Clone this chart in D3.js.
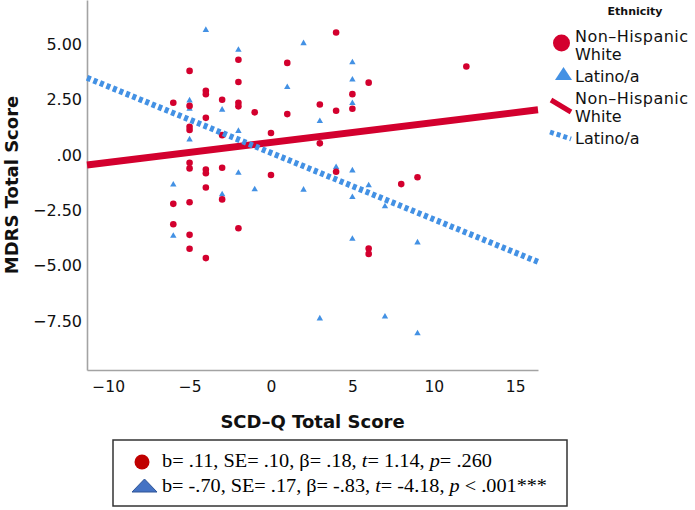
<!DOCTYPE html>
<html>
<head>
<meta charset="utf-8">
<script src="https://cdn.jsdelivr.net/npm/d3@7"></script>
<style>
  html, body { margin: 0; padding: 0; background: #fff; }
  svg { display: block; }
</style>
</head>
<body>
<svg id="chart" width="695" height="510"></svg>
<script>
// ---------------- data ----------------
const groups = ["Non–Hispanic White", "Latino/a"];

const nhwX = [-5, -2, -2, -4, -4, -6, -5, -3, -2, -2, -1, -4, -5, -5, -3, 0,
              -5, -5, -4, -4, -3, 0, -4, -6, -5, -3, -6, -2, -5, -5, -4,
              1, 6, 5, 3, 4, 5, 1, 3, 4, 4, 12, 8, 9, 6, 6];
const nhwY = [3.80, 4.30, 3.30, 2.90, 2.75, 2.36, 2.22, 2.50, 2.36, 2.20, 1.93, 1.68, 1.28, 1.13, 0.90, 1.00,
              -0.35, -0.60, -0.65, -0.82, -0.57, -0.90, -1.46, -2.20, -2.13, -2.00, -3.12, -3.30, -3.60, -4.23, -4.65,
              4.16, 3.27, 2.75, 2.28, 2.00, 2.09, 1.85, 0.53, -0.75, 5.53, 4.00, -1.31, -1.00, -4.22, -4.46];

const latX = [-4, -2, 2, 1, -5, -5, -3, -5, -2, -2, -6, -1, 2, -3, -6,
              5, 5, 5, 3, 4, 5, 6, 5, 7, 5, 9, 3, 7, 9];
const latY = [5.66, 4.76, 5.06, 3.08, 2.48, 2.10, 2.06, 0.72, 1.10, -0.79, -1.32, -1.53, -1.55, -1.76, -3.63,
              4.20, 3.42, 2.36, 1.55, -0.53, -0.68, -1.35, -1.88, -2.30, -3.77, -3.93, -7.36, -7.28, -8.03];

// fit lines: [intercept, slope] as drawn in the picture
const nhwFit = [0.57, 0.09];
const latFit = [0.10, -0.30];

const xTicks = [-10, -5, 0, 5, 10, 15];
const yTicks = [-7.5, -5, -2.5, 0, 2.5, 5];

const statsLines = [
  [["b= .11, SE= .10, β= .18, ", false], ["t", true], ["= 1.14, ", false], ["p", true], ["= .260", false]],
  [["b= -.70, SE= .17, β= -.83, ", false], ["t", true], ["= -4.18, ", false], ["p", true], [" < .001***", false]]
];

// ---------------- chart ----------------
const RED = "#d3002e";
const BLUE = "#4391e4";

const svg = d3.select("#chart");
const x = d3.scaleLinear().domain([-11.3, 16.4]).range([87, 538]);
const y = d3.scaleLinear().domain([-9.7, 7.0]).range([370, 0]);

// axes
const yFmt = v => v === 0 ? ".00" : d3.format(".2f")(v);
const gy = svg.append("g").attr("transform", `translate(${x.range()[0]},0)`)
  .call(d3.axisLeft(y).tickValues(yTicks).tickFormat(yFmt).tickSize(0).tickSizeOuter(0).tickPadding(5));
const gx = svg.append("g").attr("transform", `translate(0,${y.range()[0]})`)
  .call(d3.axisBottom(x).tickValues(xTicks).tickFormat(d3.format("d")).tickSize(0).tickSizeOuter(0).tickPadding(11));

[gx, gy].forEach(g => {
  g.select(".domain").attr("stroke", "#a3a3a3").attr("stroke-width", 1.6);
  g.selectAll("text").attr("font-family", "DejaVu Sans").attr("fill", "#111");
});
gy.selectAll("text").attr("font-size", 16);
gx.selectAll("text").attr("font-size", 15.5);

// axis titles
svg.append("text")
  .attr("transform", `translate(18,${(y.range()[0] + y.range()[1]) / 2}) rotate(-90)`)
  .attr("text-anchor", "middle")
  .attr("font-family", "DejaVu Sans").attr("font-weight", "bold").attr("font-size", 18)
  .attr("fill", "#111")
  .text("MDRS Total Score");
svg.append("text")
  .attr("x", (x.range()[0] + x.range()[1]) / 2).attr("y", 428)
  .attr("text-anchor", "middle")
  .attr("font-family", "DejaVu Sans").attr("font-weight", "bold").attr("font-size", 18)
  .attr("fill", "#111")
  .text("SCD–Q Total Score");

// points
const nhw = nhwX.map((v, i) => ({x: v, y: nhwY[i]}));
const lat = latX.map((v, i) => ({x: v, y: latY[i]}));

const tri = (w, h) => `M0,${-h * 0.6}L${w / 2},${h * 0.4}L${-w / 2},${h * 0.4}Z`;

svg.append("g").selectAll("path").data(lat).join("path")
  .attr("d", tri(6.4, 5.6))
  .attr("transform", d => `translate(${x(d.x)},${y(d.y)})`)
  .attr("fill", BLUE);

svg.append("g").selectAll("circle").data(nhw).join("circle")
  .attr("cx", d => x(d.x)).attr("cy", d => y(d.y)).attr("r", 3.3)
  .attr("fill", RED);

// fit lines
const xd = x.domain();
const fitLine = f => xd.map(v => [x(v), y(f[0] + f[1] * v)]);
svg.append("path")
  .attr("d", d3.line()(fitLine(nhwFit)))
  .attr("stroke", RED).attr("stroke-width", 7).attr("fill", "none");
svg.append("path")
  .attr("d", d3.line()(fitLine(latFit)))
  .attr("stroke", BLUE).attr("stroke-width", 6).attr("stroke-dasharray", "4,3").attr("fill", "none");

// legend
const lg = svg.append("g").attr("font-family", "DejaVu Sans").attr("fill", "#111");
lg.append("text").attr("x", 635).attr("y", 15).attr("text-anchor", "middle")
  .attr("font-weight", "bold").attr("font-size", 11).text("Ethnicity");
lg.append("circle").attr("cx", 561.5).attr("cy", 43).attr("r", 8.5).attr("fill", RED);
lg.append("path").attr("d", "M563.5,67L572,80L555,80Z").attr("fill", BLUE);
lg.append("line").attr("x1", 551).attr("y1", 100).attr("x2", 571).attr("y2", 112)
  .attr("stroke", RED).attr("stroke-width", 5);
lg.append("line").attr("x1", 550).attr("y1", 132).attr("x2", 571).attr("y2", 139)
  .attr("stroke", BLUE).attr("stroke-width", 5).attr("stroke-dasharray", "4,3");
const legendLabels = [
  ["Non–Hispanic", 41.5], ["White", 60.2], ["Latino/a", 82],
  ["Non–Hispanic", 103.5], ["White", 122.2], ["Latino/a", 143.5]
];
legendLabels.forEach(([t, yy]) => {
  lg.append("text").attr("x", 575).attr("y", yy).attr("font-size", 16)
    .attr("textLength", t === "Non–Hispanic" ? 113 : null)
    .attr("lengthAdjust", "spacing")
    .text(t);
});

// stats box
const box = svg.append("g");
box.append("rect").attr("x", 113).attr("y", 440).attr("width", 454).attr("height", 66)
  .attr("fill", "none").attr("stroke", "#333").attr("stroke-width", 1.5);
box.append("circle").attr("cx", 142).attr("cy", 462).attr("r", 7.5).attr("fill", "#c00000");
box.append("path").attr("d", "M144.5,479L157,492L132,492Z")
  .attr("fill", "#4472c4").attr("stroke", "#2f5597").attr("stroke-width", 1);
const widths = [330, 385];
statsLines.forEach((parts, i) => {
  const t = box.append("text").attr("x", 162).attr("y", 467 + i * 25)
    .attr("font-family", "Liberation Serif").attr("font-size", 18).attr("fill", "#000")
    .attr("textLength", widths[i]).attr("lengthAdjust", "spacingAndGlyphs");
  parts.forEach(([s, it]) => {
    t.append("tspan").attr("font-style", it ? "italic" : "normal").text(s);
  });
});
</script>
</body>
</html>
